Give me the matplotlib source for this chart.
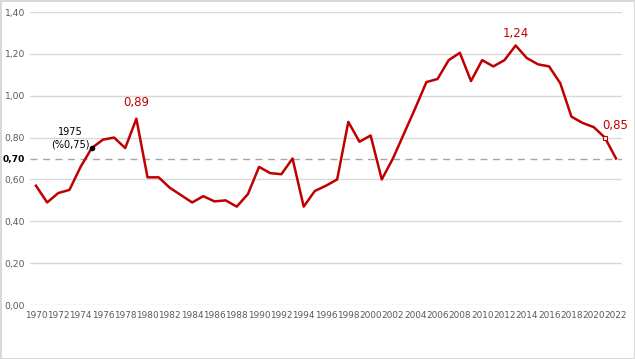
import numpy as np
import matplotlib
matplotlib.use('Agg')
import matplotlib.pyplot as plt

years = list(range(1970, 2023))
values = [0.57, 0.49, 0.535, 0.55, 0.66, 0.75, 0.79, 0.80, 0.75, 0.89,
          0.61, 0.61, 0.56, 0.525, 0.49, 0.52, 0.495, 0.50, 0.47, 0.53,
          0.66, 0.63, 0.625, 0.70, 0.47, 0.545, 0.57, 0.60, 0.875, 0.78,
          0.81, 0.60, 0.70, 0.82, 0.94, 1.065, 1.08, 1.17, 1.205, 1.07,
          1.17, 1.14, 1.17, 1.24, 1.18, 1.15, 1.14, 1.06, 0.90, 0.87,
          0.85, 0.80, 0.70]
yticks = [0.0, 0.2, 0.4, 0.6, 0.7, 0.8, 1.0, 1.2, 1.4]
threshold = 0.70

red = '#C00000'
gray = '#595959'

fig = plt.figure(figsize=(6.35, 3.59), dpi=100)
fig.patch.set_edgecolor('#D9D9D9')
fig.patch.set_linewidth(2)
ax = fig.add_axes([30.4 / 635, 1 - 305 / 359, (621.6 - 30.4) / 635, (305 - 12) / 359])

for v in [0.0, 0.2, 0.4, 0.6, 0.8, 1.0, 1.2, 1.4]:
    ax.axhline(v, color='#D9D9D9', lw=1, zorder=1)
ax.axhline(threshold, color='#A6A6A6', lw=1, ls=(0, (5, 4)), zorder=1)

ax.plot(years, values, color=red, lw=1.8, zorder=3)

# annotations
i75 = years.index(1975)
ax.plot(years[i75], values[i75], 'o', color='black', ms=3, zorder=4)
ax.text(years[i75] - 1.95, values[i75] - 0.005, '1975\n(%0,75)', fontsize=7,
        ha='center', va='bottom', linespacing=1.25, color='black')
i79 = years.index(1979)
ax.text(years[i79], values[i79] + 0.045, '0,89', fontsize=8.5, color=red,
        ha='center', va='bottom')
i13 = years.index(2013)
ax.text(years[i13], values[i13] + 0.025, '1,24', fontsize=8.5, color=red,
        ha='center', va='bottom')
i21 = years.index(2021)
ax.plot(years[i21], values[i21], 's', mfc='white', mec=red, ms=3, mew=0.8, zorder=4)
ax.text(years[i21] + 0.9, values[i21] + 0.025, '0,85', fontsize=8.5, color=red,
        ha='center', va='bottom')

ax.set_xlim(1969.5, 2022.5)
ax.set_ylim(0, 1.40)
ax.set_xticks(years[::2])
ax.set_xticklabels([str(y) for y in years[::2]], fontsize=6.4, color=gray)
ax.set_yticks(yticks)
ylabels = [('%.2f' % v).replace('.', ',') for v in yticks]
ax.set_yticklabels(ylabels, fontsize=6.6, color=gray)
for lab, v in zip(ax.get_yticklabels(), yticks):
    if v == threshold:
        lab.set_fontweight('bold')
        lab.set_color('black')
ax.tick_params(length=0, pad=4)
for s in ax.spines.values():
    s.set_visible(False)

fig.savefig('out.png', dpi=100)
